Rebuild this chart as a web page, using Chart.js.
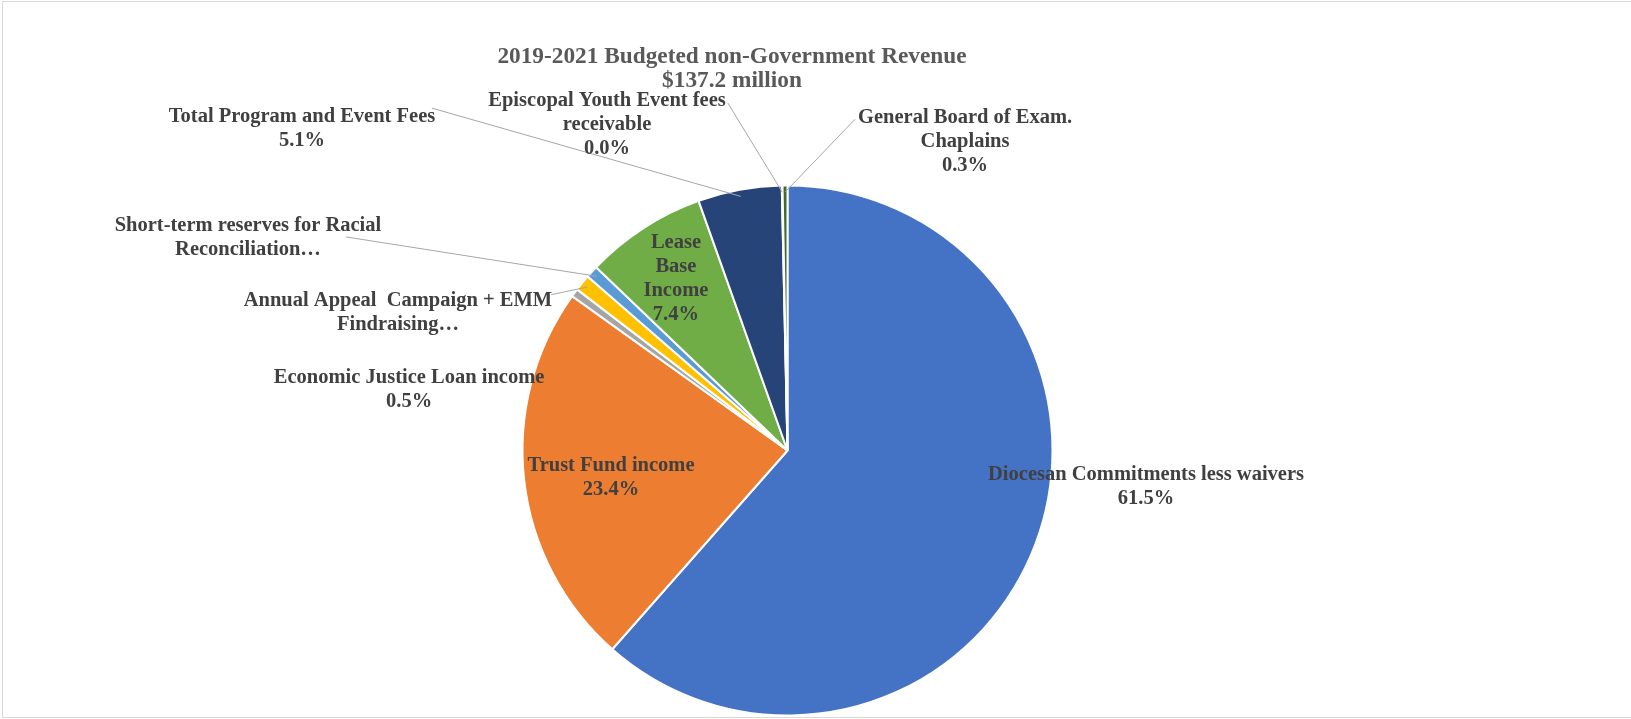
<!DOCTYPE html>
<html>
<head>
<meta charset="utf-8">
<script src="https://cdn.jsdelivr.net/npm/chart.js@4"></script>
<style>
  body { margin: 0; background: #fff; }
  canvas { display: block; }
</style>
</head>
<body>
<canvas id="pieChart" width="1631" height="719"></canvas>
<script>
// Data
const categories = [
    'Diocesan Commitments less waivers',
    'Trust Fund income',
    'Economic Justice Loan income',
    'Annual Appeal  Campaign + EMM Findraising',
    'Short-term reserves for Racial Reconciliation',
    'Lease Base Income',
    'Total Program and Event Fees',
    'Episcopal Youth Event fees receivable',
    'General Board of Exam. Chaplains'
];
const shares = [61.5, 23.4, 0.5, 1.0, 0.755, 7.4, 5.1, 0.045, 0.3];
const sliceColors = ['#4472C4', '#ED7D31', '#A5A5A5', '#FFC000', '#5B9BD5', '#70AD47', '#264478', '#997300', '#43682B'];
const titleLines = ['2019-2021 Budgeted non-Government Revenue', '$137.2 million'];

// Label text per slice (null = percent computed from the data)
const labelText = [
    ['Diocesan Commitments less waivers', null],
    ['Trust Fund income', null],
    ['Economic Justice Loan income', null],
    ['Annual Appeal  Campaign + EMM', 'Findraising\u2026'],
    ['Short-term reserves for Racial', 'Reconciliation\u2026'],
    ['Lease', 'Base', 'Income', null],
    ['Total Program and Event Fees', null],
    ['Episcopal Youth Event fees', 'receivable', null],
    ['General Board of Exam.', 'Chaplains', null]
];

// Label placement relative to the pie centre, in units of the radius
// lead = start point of the leader line (same units), or null for none
const labelLayout = [
    { dx: 1.353, dy: 0.126, lead: null },
    { dx: -0.666, dy: 0.092, lead: null },
    { dx: -1.428, dy: -0.238, lead: null },
    { dx: -1.470, dy: -0.528, lead: [-0.892, -0.588] },
    { dx: -2.036, dy: -0.813, lead: [-1.666, -0.806] },
    { dx: -0.421, dy: -0.657, lead: null },
    { dx: -1.832, dy: -1.225, lead: [-1.342, -1.292] },
    { dx: -0.681, dy: -1.240, lead: [-0.225, -1.311] },
    { dx: 0.670, dy: -1.175, lead: [0.255, -1.250] }
];

const total = shares.reduce((a, b) => a + b, 0);

// Draws the chart frame, title and the slice labels with leader lines
const sliceLabels = {
    id: 'sliceLabels',
    beforeDraw(chart) {
        const ctx = chart.ctx;
        ctx.save();
        ctx.strokeStyle = '#d9d9d9';
        ctx.lineWidth = 1;
        ctx.strokeRect(2.5, 1.5, chart.width, chart.height - 3);
        ctx.restore();
    },
    afterDatasetsDraw(chart) {
        const ctx = chart.ctx;
        const meta = chart.getDatasetMeta(0);
        const shift = 2.5; // baseline nudge for the serif font
        ctx.save();

        // Title
        ctx.font = 'bold 23.3px "Liberation Serif"';
        ctx.fillStyle = '#595959';
        ctx.textAlign = 'center';
        ctx.textBaseline = 'middle';
        titleLines.forEach((t, k) => ctx.fillText(t, 732, 54 + shift + k * 24));

        ctx.font = 'bold 20.5px "Liberation Serif"';
        const lh = 24;
        meta.data.forEach((arc, i) => {
            const lay = labelLayout[i];
            const p = arc.getProps(['x', 'y', 'outerRadius', 'startAngle', 'endAngle'], true);
            const r = p.outerRadius;
            const lx = p.x + lay.dx * r;
            const ly = p.y + lay.dy * r + shift;

            // Leader line to the middle of the slice edge
            if (lay.lead) {
                const mid = (p.startAngle + p.endAngle) / 2;
                ctx.beginPath();
                ctx.strokeStyle = '#a6a6a6';
                ctx.lineWidth = 1;
                ctx.moveTo(p.x + lay.lead[0] * r, p.y + lay.lead[1] * r);
                ctx.lineTo(p.x + Math.cos(mid) * r * 0.975, p.y + Math.sin(mid) * r * 0.975);
                ctx.stroke();
            }

            const lines = labelText[i].map(t => t === null ? (shares[i] / total * 100).toFixed(1) + '%' : t);
            ctx.fillStyle = '#404040';
            const y0 = ly - (lines.length - 1) * lh / 2;
            lines.forEach((t, k) => ctx.fillText(t, lx, y0 + k * lh));
        });
        ctx.restore();
    }
};

const pieCtx = document.getElementById('pieChart').getContext('2d');
const pieChart = new Chart(pieCtx, {
    type: 'pie',
    data: {
        labels: categories,
        datasets: [{
            data: shares,
            backgroundColor: sliceColors,
            borderColor: '#ffffff',
            borderWidth: 2
        }]
    },
    options: {
        responsive: false,
        animation: false,
        layout: {
            padding: { left: 487.5, right: 543.5, top: 184.5, bottom: 2.5 }
        },
        plugins: {
            legend: { display: false },
            tooltip: { enabled: false },
            title: { display: false }
        }
    },
    plugins: [sliceLabels]
});
</script>
</body>
</html>
